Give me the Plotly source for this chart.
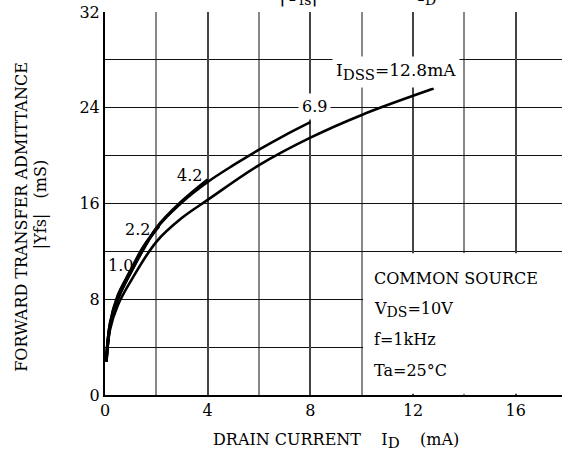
import plotly.graph_objects as go

# |Yfs| - ID curves (ID in mA, Yfs in mS)
id_10 = [0.05, 0.2, 0.5, 0.8, 1.0]
yfs_10 = [2.8, 6.0, 8.3, 9.6, 10.4]

id_22 = [0.05, 0.2, 0.5, 1.0, 1.5, 2.1]
yfs_22 = [2.8, 5.9, 8.2, 10.4, 12.4, 14.1]

id_42 = [0.05, 0.2, 0.5, 1.0, 2.0, 3.0, 4.0]
yfs_42 = [2.8, 5.8, 8.05, 10.25, 13.95, 16.2, 18.0]

id_69 = [0.05, 0.2, 0.5, 1.0, 2.0, 3.0, 4.0, 5.0, 6.0, 7.0, 8.0]
yfs_69 = [2.8, 5.8, 8.0, 10.2, 13.9, 16.1, 17.8, 19.2, 20.5, 21.7, 22.8]

id_128 = [0.05, 0.2, 0.5, 1.0, 2.0, 3.0, 4.0, 6.0, 8.0, 10.0, 12.8]
yfs_128 = [2.8, 5.5, 7.5, 9.5, 12.8, 14.8, 16.3, 19.2, 21.5, 23.4, 25.6]

FONT = "DejaVu Serif"


def sub(t, size):
    # subscripts on the datasheet are almost full size
    return "<sub><span style='font-size:%dpx'>%s</span></sub>" % (size, t)


# curve labels and where they sit; only the two that cross grid lines get a white box
curve_labels = ["1.0", "2.2", "4.2", "6.9", "I" + sub("DSS", 15) + "=12.8mA"]
label_x = [0.62, 1.25, 3.3, 8.15, 11.35]
label_y = [10.8, 13.8, 18.3, 24.1, 27.0]
label_size = [16, 16, 16, 16, 17]
label_bg = [None, None, None, "white", "white"]

conditions = ["COMMON SOURCE", "V" + sub("DS", 14) + "=10V", "f=1kHz", "Ta=25°C"]

fig = go.Figure()

# all curves drawn in black
for xs, ys, w in [(id_10, yfs_10, 3), (id_22, yfs_22, 3), (id_42, yfs_42, 3),
                  (id_69, yfs_69, 2.6), (id_128, yfs_128, 2.6)]:
    fig.add_trace(go.Scatter(x=xs, y=ys, mode="lines", showlegend=False,
                             line=dict(color="black", width=w, shape="spline")))

# white box that hides the grid behind the test conditions
fig.add_shape(type="rect", x0=10.05, x1=18, y0=0.1, y1=11.85, layer="between",
              fillcolor="white", line=dict(width=0))

for t, x, y, s, bg in zip(curve_labels, label_x, label_y, label_size, label_bg):
    fig.add_annotation(x=x, y=y, text=t, showarrow=False, bgcolor=bg, borderpad=3,
                       font=dict(family=FONT, size=s, color="black"))

for i, t in enumerate(conditions):
    fig.add_annotation(x=10.4, y=9.7 - i * 2.55, text=t, showarrow=False,
                       xanchor="left", font=dict(family=FONT, size=16, color="black"))

# y axis title (two lines, rotated)
fig.add_annotation(xref="paper", yref="paper", x=-0.182, y=0.465, xanchor="center", yanchor="middle",
                   text="FORWARD TRANSFER ADMITTANCE", textangle=-90, showarrow=False,
                   font=dict(family=FONT, size=16, color="black"))
fig.add_annotation(xref="paper", yref="paper", x=-0.142, y=0.496, xanchor="center", yanchor="middle",
                   text="|Yfs|   (mS)", textangle=-90, showarrow=False,
                   font=dict(family=FONT, size=16, color="black"))

# x axis title
fig.add_annotation(xref="paper", yref="paper", x=0.505, y=-0.085, yanchor="top",
                   text="DRAIN CURRENT    I" + sub("D", 15) + "    (mA)", showarrow=False,
                   font=dict(family=FONT, size=16, color="black"))

# chart title, mostly cut off at the top of the page
fig.add_annotation(xref="paper", yref="paper", x=0.5, y=1.005, yanchor="bottom", xanchor="left",
                   text="|Y<sub>fs</sub>|       –       I<sub>D</sub>", showarrow=False,
                   xshift=-57, font=dict(family=FONT, size=20, color="black"))

fig.update_xaxes(range=[0, 17.8], tickvals=[0, 4, 8, 12, 16], showgrid=True,
                 gridcolor="#444", gridwidth=2,
                 minor=dict(dtick=2, showgrid=True, gridcolor="#888", gridwidth=2),
                 showline=True, linecolor="black", linewidth=2, zeroline=False,
                 ticks="", tickfont=dict(family=FONT, size=16, color="black"))
fig.update_yaxes(range=[0, 32], tickvals=[0, 8, 16, 24, 32], showgrid=True,
                 gridcolor="#111", gridwidth=1.2,
                 minor=dict(dtick=4, showgrid=True, gridcolor="#111", gridwidth=1.2),
                 showline=True, linecolor="black", linewidth=2, zeroline=False,
                 ticks="", ticklabelstandoff=0, tickfont=dict(family=FONT, size=16, color="black"))

fig.update_layout(width=562, height=459, margin=dict(l=105, r=0, t=12, b=64),
                  plot_bgcolor="white", paper_bgcolor="white")

# drop the page margin so the chart sits at the window's top-left corner
fig.write_html("out.html", config={"displayModeBar": False},
               post_script="document.body.style.margin='0';")
